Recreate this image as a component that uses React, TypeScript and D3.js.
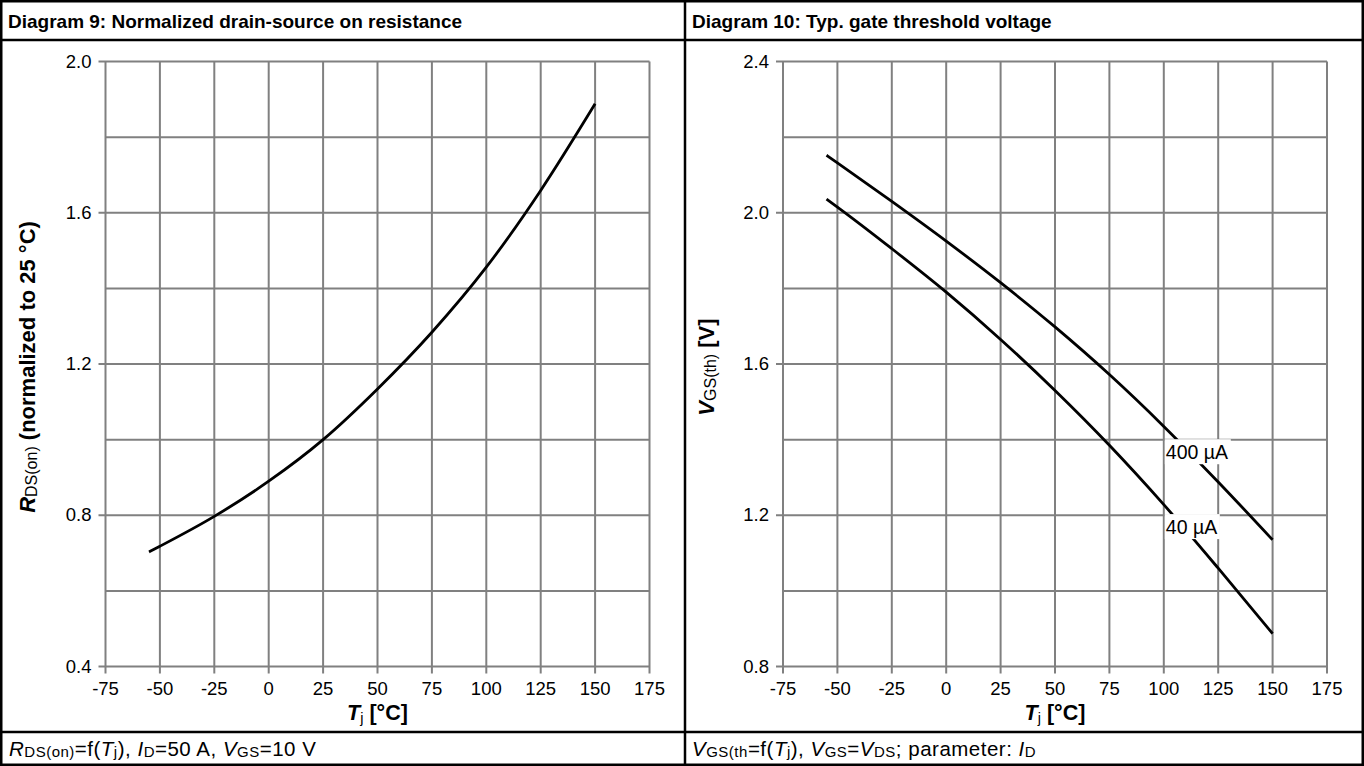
import * as d3 from 'd3'

// junction temperature points (°C)
const temps = [-55, -50, -25, 0, 25, 50, 75, 100, 125, 150]
// Diagram 9: RDS(on) normalized to 25 °C
const rdsNorm = [0.703, 0.718, 0.797, 0.89, 1.0, 1.134, 1.284, 1.456, 1.659, 1.888]
// Diagram 10: VGS(th) for two drain currents
const vth400 = [2.152, 2.132, 2.03, 1.925, 1.815, 1.698, 1.572, 1.435, 1.288, 1.135]
const vth40 = [2.036, 2.015, 1.905, 1.79, 1.665, 1.53, 1.385, 1.228, 1.06, 0.887]

const xTicks = [-75, -50, -25, 0, 25, 50, 75, 100, 125, 150, 175]
const yTicksLeft = [0.4, 0.8, 1.2, 1.6, 2.0]
const yGridLeft = [0.4, 0.6, 0.8, 1.0, 1.2, 1.4, 1.6, 1.8, 2.0]
const yTicksRight = [0.8, 1.2, 1.6, 2.0, 2.4]
const yGridRight = [0.8, 1.0, 1.2, 1.4, 1.6, 1.8, 2.0, 2.2, 2.4]

// curve annotations: [temperature, value, text]
const curveLabels: [number, number, string][] = [
  [100, 1.368, '400 µA'],
  [100, 1.17, '40 µA'],
]

const W = 1364
const H = 766
const FONT = "'Liberation Sans', Arial, sans-serif"
const GRID = '#808080'

type Pt = { t: number; v: number }

function Panel({
  x0,
  x1,
  yDomain,
  yTicks,
  yGrid,
  series,
  labels,
  yLabel,
  yLabelX,
}: {
  x0: number
  x1: number
  yDomain: [number, number]
  yTicks: number[]
  yGrid: number[]
  series: number[][]
  labels: [number, number, string][]
  yLabel: React.ReactNode
  yLabelX: number
}) {
  const x = d3.scaleLinear().domain([-75, 175]).range([x0, x1])
  const y = d3.scaleLinear().domain(yDomain).range([666.5, 61.5])
  const line = d3
    .line<Pt>()
    .x(d => x(d.t))
    .y(d => y(d.v))
    .curve(d3.curveMonotoneX)
  const [ya, yb] = y.range()
  const midY = (ya + yb) / 2

  return (
    <g>
      {/* grid */}
      {xTicks.map(t => (
        <line key={'gx' + t} x1={x(t)} x2={x(t)} y1={yb} y2={ya + 7} stroke={GRID} strokeWidth={2} />
      ))}
      {yGrid.map(v => (
        <line
          key={'gy' + v}
          x1={yTicks.includes(v) ? x0 - 7 : x0}
          x2={x1}
          y1={y(v)}
          y2={y(v)}
          stroke={GRID}
          strokeWidth={2}
        />
      ))}
      {/* tick labels */}
      {xTicks.map(t => (
        <text key={'tx' + t} x={x(t)} y={ya + 28} textAnchor="middle" fontSize={18.5}>
          {t}
        </text>
      ))}
      {yTicks.map(v => (
        <text key={'ty' + v} x={x0 - 14} y={y(v) + 6} textAnchor="end" fontSize={18.5}>
          {v.toFixed(1)}
        </text>
      ))}
      {/* curves */}
      {series.map((s, i) => (
        <path
          key={'s' + i}
          d={line(temps.map((t, j) => ({ t, v: s[j] }))) || ''}
          fill="none"
          stroke="#000"
          strokeWidth={2.8}
        />
      ))}
      {labels.map(([t, v, txt]) => (
        <g key={txt}>
          <rect x={x(t) + 1} y={y(v) - 12.5} width={txt.length * 11} height={25} fill="#fff" />
          <text x={x(t) + 2} y={y(v) + 7} fontSize={19.5}>
            {txt}
          </text>
        </g>
      ))}
      {/* axis titles */}
      <text x={(x0 + x1) / 2} y={ya + 53} textAnchor="middle" fontSize={21.5} fontWeight="bold">
        <tspan fontStyle="italic">T</tspan>
        <tspan fontSize={14.5} fontWeight="normal" dy={3}>j</tspan>
        <tspan dy={-3}> [°C]</tspan>
      </text>
      <text
        transform={`translate(${yLabelX},${midY + 3}) rotate(-90)`}
        textAnchor="middle"
        fontSize={22}
        fontWeight="bold"
      >
        {yLabel}
      </text>
    </g>
  )
}

export default function App() {
  return (
    <div style={{ position: 'absolute', left: 0, top: 0 }}>
      <svg width={W} height={H} fontFamily={FONT} style={{ display: 'block', background: '#fff' }}>
        <rect x={0} y={0} width={W} height={H} fill="#fff" />

        <Panel
          x0={105.5}
          x1={649.5}
          yDomain={[0.4, 2.0]}
          yTicks={yTicksLeft}
          yGrid={yGridLeft}
          series={[rdsNorm]}
          labels={[]}
          yLabelX={35}
          yLabel={
            <>
              <tspan fontStyle="italic">R</tspan>
              <tspan fontSize={16} fontWeight="normal" dy={2}>DS(on)</tspan>
              <tspan dy={-2}> (normalized to 25 °C)</tspan>
            </>
          }
        />
        <Panel
          x0={783}
          x1={1327}
          yDomain={[0.8, 2.4]}
          yTicks={yTicksRight}
          yGrid={yGridRight}
          series={[vth400, vth40]}
          labels={curveLabels}
          yLabelX={714}
          yLabel={
            <>
              <tspan fontStyle="italic">V</tspan>
              <tspan fontSize={16} fontWeight="normal" dy={2}>GS(th)</tspan>
              <tspan dy={-2}> [V]</tspan>
            </>
          }
        />

        {/* table frame */}
        <g stroke="#000" strokeWidth={2.5} fill="none">
          <rect x={1.25} y={1.25} width={W - 2.5} height={H - 2.5} />
          <line x1={685} x2={685} y1={0} y2={H} />
          <line x1={0} x2={W} y1={40} y2={40} />
          <line x1={0} x2={W} y1={732} y2={732} />
        </g>

        {/* titles */}
        <text x={8} y={27.5} fontSize={19} fontWeight="bold">
          Diagram 9: Normalized drain-source on resistance
        </text>
        <text x={692} y={27.5} fontSize={19} fontWeight="bold">
          Diagram 10: Typ. gate threshold voltage
        </text>

        {/* captions */}
        <text x={9} y={756} fontSize={20.5} letterSpacing={0.5}>
          <tspan fontStyle="italic">R</tspan>
          <tspan fontSize={15} dy={1}>DS(on)</tspan>
          <tspan dy={-1}>=f(</tspan>
          <tspan fontStyle="italic">T</tspan>
          <tspan fontSize={15} dy={1}>j</tspan>
          <tspan dy={-1}>), </tspan>
          <tspan fontStyle="italic">I</tspan>
          <tspan fontSize={15} dy={1}>D</tspan>
          <tspan dy={-1}>=50 A, </tspan>
          <tspan fontStyle="italic">V</tspan>
          <tspan fontSize={15} dy={1}>GS</tspan>
          <tspan dy={-1}>=10 V</tspan>
        </text>
        <text x={692} y={756} fontSize={20.5} letterSpacing={0.5}>
          <tspan fontStyle="italic">V</tspan>
          <tspan fontSize={15} dy={1}>GS(th</tspan>
          <tspan dy={-1}>=f(</tspan>
          <tspan fontStyle="italic">T</tspan>
          <tspan fontSize={15} dy={1}>j</tspan>
          <tspan dy={-1}>), </tspan>
          <tspan fontStyle="italic">V</tspan>
          <tspan fontSize={15} dy={1}>GS</tspan>
          <tspan dy={-1}>=</tspan>
          <tspan fontStyle="italic">V</tspan>
          <tspan fontSize={15} dy={1}>DS</tspan>
          <tspan dy={-1}>; parameter: </tspan>
          <tspan fontStyle="italic">I</tspan>
          <tspan fontSize={15} dy={1}>D</tspan>
        </text>
      </svg>
    </div>
  )
}
